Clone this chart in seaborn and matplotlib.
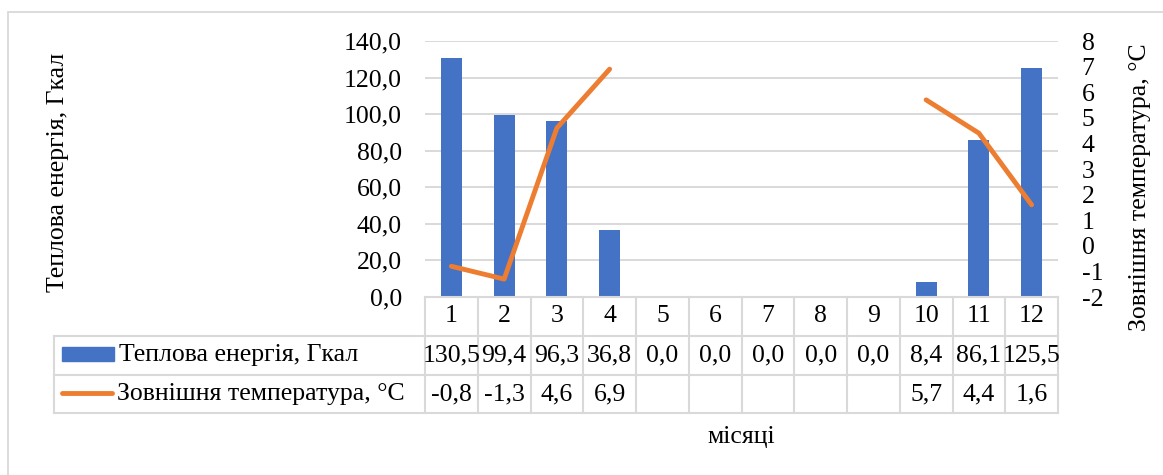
import numpy as np
import pandas as pd
import seaborn as sns
import matplotlib.pyplot as plt
from matplotlib import transforms, font_manager as fm
from matplotlib.font_manager import FontProperties
from matplotlib.lines import Line2D
from matplotlib.patches import Rectangle

# ---- data ----
months = ["1", "2", "3", "4", "5", "6", "7", "8", "9", "10", "11", "12"]
energy = [130.5, 99.4, 96.3, 36.8, 0.0, 0.0, 0.0, 0.0, 0.0, 8.4, 86.1, 125.5]
temperature = [-0.8, -1.3, 4.6, 6.9, np.nan, np.nan, np.nan, np.nan, np.nan, 5.7, 4.4, 1.6]
energy_label = "Теплова енергія, Гкал"
temp_label = "Зовнішня температура, °C"
x_label = "місяці"

BLUE = "#4472C4"
ORANGE = "#ED7D31"
GRID = "#D9D9D9"
FS = 18.5

# pick the regular Liberation Serif face straight from the font list
serif_files = [f.fname for f in fm.fontManager.ttflist
               if f.name == "Liberation Serif" and f.style == "normal"
               and f.weight in (400, "normal", "regular")]
if serif_files:
    FP = FontProperties(fname=serif_files[0], size=FS)
else:
    FP = FontProperties(family="DejaVu Serif", size=FS)

plt.rcParams["text.color"] = "black"

W, H = 1163, 475
fig = plt.figure(figsize=(W / 100, H / 100), dpi=100)


def fx(px):
    return px / W


def fy(py):
    return 1 - py / H


def txt(x, y, s, **kw):
    return fig.text(x, y, s, fontproperties=FP, **kw)


# plot area in pixel coordinates
L, R, T, B = 425, 1058, 41, 297
ax = fig.add_axes([fx(L), fy(B), fx(R) - fx(L), fy(T) - fy(B)])

df = pd.DataFrame({"month": months, "energy": energy, "temp": temperature})
df["pos"] = np.arange(len(months))

sns.barplot(data=df, x="month", y="energy", color=BLUE, width=0.4,
            saturation=1, ax=ax, zorder=2)
ax.set_xlim(-0.5, len(months) - 0.5)
ax.set_ylim(0, 140)
ax.set_yticks(np.arange(0, 141, 20))
ax.set_yticklabels([f"{v:.1f}".replace(".", ",") for v in np.arange(0, 141, 20)],
                   fontproperties=FP)
ax.set_xticks([])
ax.set_xlabel("")
ax.set_ylabel("")
ax.tick_params(axis="y", length=0, pad=16.5)
ax.yaxis.grid(True, color=GRID, lw=1.4, zorder=0)
ax.set_axisbelow(True)
for s in ax.spines.values():
    s.set_visible(False)

# temperature line on the secondary axis, broken where data is missing
ax2 = ax.twinx()
line_df = df.dropna(subset=["temp"]).copy()
line_df["segment"] = (line_df["pos"].diff() != 1).cumsum()
sns.lineplot(data=line_df, x="pos", y="temp", units="segment", estimator=None,
             color=ORANGE, lw=3.5, ax=ax2, solid_capstyle="round", zorder=3)
ax2.set_ylim(-2, 8)
ax2.set_yticks(np.arange(-2, 9, 1))
ax2.set_yticklabels([str(v) for v in range(-2, 9)], fontproperties=FP)
for lbl in ax2.get_yticklabels():
    lbl.set_horizontalalignment("left")
ax2.tick_params(axis="y", length=0, pad=17)
ax2.set_xlim(-0.5, len(months) - 0.5)
ax2.set_xlabel("")
ax2.set_ylabel("")
ax2.grid(False)
for s in ax2.spines.values():
    s.set_visible(False)

# axis titles
txt(fx(58), fy(172), energy_label, rotation=90, ha="center", va="center")
txt(fx(1140), fy(187), temp_label, rotation=90, ha="center", va="center")
txt(fx((L + R) / 2), fy(437), x_label, ha="center", va="center")

# ---- data table under the plot ----
tr = transforms.blended_transform_factory(ax.transData, fig.transFigure)
rows_y = [297, 336, 375, 413]
left_col = 54
n = len(months)
disp_left = fig.transFigure.transform((fx(left_col), 0))[0]
x_left_data = ax.transData.inverted().transform((disp_left, 0))[0]

line_kw = dict(color=GRID, lw=1.5, zorder=1)
fig.add_artist(Line2D([-0.5, n - 0.5], [fy(rows_y[0])] * 2, transform=tr, **line_kw))
for yy in rows_y[1:]:
    fig.add_artist(Line2D([x_left_data, n - 0.5], [fy(yy)] * 2, transform=tr, **line_kw))
for i in range(n + 1):
    fig.add_artist(Line2D([i - 0.5, i - 0.5], [fy(rows_y[0]), fy(rows_y[-1])],
                          transform=tr, **line_kw))
fig.add_artist(Line2D([x_left_data, x_left_data], [fy(rows_y[1]), fy(rows_y[-1])],
                      transform=tr, **line_kw))

row_c = [(rows_y[k] + rows_y[k + 1]) / 2 for k in range(3)]
for i, m in enumerate(months):
    txt(i, fy(row_c[0]), m, transform=tr, ha="center", va="center")
    txt(i, fy(row_c[1]), f"{energy[i]:.1f}".replace(".", ","), transform=tr,
        ha="center", va="center")
    t = temperature[i]
    if not np.isnan(t):
        txt(i, fy(row_c[2]), f"{t:.1f}".replace(".", ","), transform=tr,
            ha="center", va="center")

# legend keys inside the table's first column
fig.add_artist(Rectangle((fx(62), fy(361)), fx(114) - fx(62), fy(347) - fy(361),
                         transform=fig.transFigure, color=BLUE))
txt(fx(119), fy(row_c[1]), energy_label, ha="left", va="center")
fig.add_artist(Line2D([fx(62), fx(112)], [fy(393), fy(393)], transform=fig.transFigure,
                      color=ORANGE, lw=3.5, solid_capstyle="round"))
txt(fx(117), fy(row_c[2]), temp_label, ha="left", va="center")

# chart frame
fig.add_artist(Rectangle((fx(8), fy(490)), fx(1175) - fx(8), fy(12) - fy(490),
                         transform=fig.transFigure, fill=False, edgecolor=GRID, lw=1.3))

fig.savefig("out.png", dpi=100, facecolor="white")
